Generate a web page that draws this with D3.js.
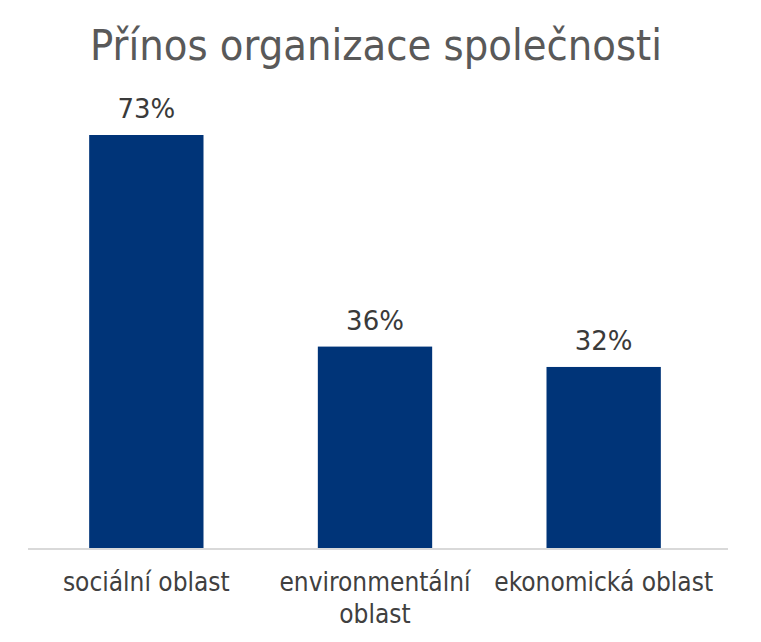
<!DOCTYPE html>
<html>
<head>
<meta charset="utf-8">
<script src="https://cdn.jsdelivr.net/npm/d3@7"></script>
<style>
  body { margin: 0; background: #fff; }
  svg { display: block; }
</style>
</head>
<body>
<div id="chart"></div>
<script>
// data
var categories = [["sociální oblast"], ["environmentální", "oblast"], ["ekonomická oblast"]];
var values = [73, 35.6, 32];
var valueLabels = ["73%", "36%", "32%"];
var title = "Přínos organizace společnosti";

var width = 761, height = 642;
var margin = { left: 32, right: 43, baseline: 548, top: 135 };
var narrow = "'Liberation Sans Narrow', 'DejaVu Sans Condensed', 'Arial Narrow', sans-serif";

var svg = d3.select("#chart").append("svg")
  .attr("width", width)
  .attr("height", height);

var keys = categories.map(function (d, i) { return i; });
var x = d3.scaleBand().domain(keys).range([margin.left, width - margin.right]).paddingInner(0.5).paddingOuter(0.25);
var y = d3.scaleLinear().domain([0, d3.max(values)]).range([margin.baseline, margin.top]);

// title
svg.append("text")
  .attr("x", 376)
  .attr("y", 60)
  .attr("text-anchor", "middle")
  .style("font-family", narrow)
  .style("font-size", "43px")
  .style("fill", "#595959")
  .text(title);

// bars
svg.append("g").selectAll("rect").data(values)
  .enter().append("rect")
  .attr("x", function (d, i) { return x(i); })
  .attr("y", function (d) { return y(d); })
  .attr("width", x.bandwidth())
  .attr("height", function (d) { return y(0) - y(d); })
  .attr("fill", "#003478");

// value labels
svg.append("g").selectAll("text").data(values)
  .enter().append("text")
  .attr("x", function (d, i) { return x(i) + x.bandwidth() / 2; })
  .attr("y", function (d) { return y(d) - 17; })
  .attr("text-anchor", "middle")
  .style("font-family", "'DejaVu Sans', Verdana, sans-serif")
  .style("font-size", "26px")
  .style("fill", "#3a3a3a")
  .text(function (d, i) { return valueLabels[i]; });

// axis line
svg.append("line")
  .attr("x1", 28).attr("x2", 728)
  .attr("y1", y(0) + 1).attr("y2", y(0) + 1)
  .attr("stroke", "#d9d9d9")
  .attr("stroke-width", 2);

// category labels
var cat = svg.append("g").selectAll("text").data(categories)
  .enter().append("text")
  .attr("x", function (d, i) { return x(i) + x.bandwidth() / 2; })
  .attr("y", 591)
  .attr("text-anchor", "middle")
  .style("font-family", narrow)
  .style("font-size", "26px")
  .style("fill", "#404040");
cat.selectAll("tspan").data(function (d) { return d; })
  .enter().append("tspan")
  .attr("x", function () { return d3.select(this.parentNode).attr("x"); })
  .attr("dy", function (d, j) { return j === 0 ? 0 : 32; })
  .text(function (d) { return d; });
</script>
</body>
</html>
